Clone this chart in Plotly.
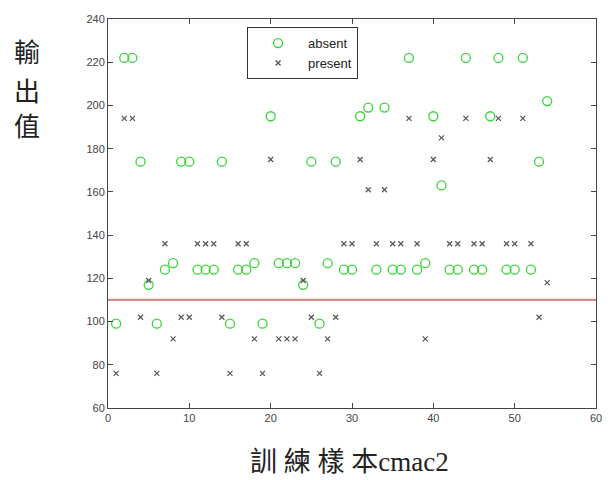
import plotly.graph_objects as go

sample_idx = list(range(1, 55))
absent = [99, 222, 222, 174, 117, 99, 124, 127, 174, 174,
          124, 124, 124, 174, 99, 124, 124, 127, 99, 195,
          127, 127, 127, 117, 174, 99, 127, 174, 124, 124,
          195, 199, 124, 199, 124, 124, 222, 124, 127, 195,
          163, 124, 124, 222, 124, 124, 195, 222, 124, 124,
          222, 124, 174, 202]
present = [76, 194, 194, 102, 119, 76, 136, 92, 102, 102,
           136, 136, 136, 102, 76, 136, 136, 92, 76, 175,
           92, 92, 92, 119, 102, 76, 92, 102, 136, 136,
           175, 161, 136, 161, 136, 136, 194, 136, 92, 175,
           185, 136, 136, 194, 136, 136, 175, 194, 136, 136,
           194, 136, 102, 118]
threshold = 110
x_range = [0, 60]
y_range = [60, 240]
x_ticks = [0, 10, 20, 30, 40, 50, 60]
y_ticks = [60, 80, 100, 120, 140, 160, 180, 200, 220, 240]
y_title_chars = ["輸", "出", "值"]
x_title = "訓 練 樣 本cmac2"

fig = go.Figure()
fig.add_trace(go.Scatter(
    x=x_range, y=[threshold, threshold], mode="lines",
    line=dict(color="#d48c8c", width=2.2), showlegend=False, hoverinfo="skip"))
fig.add_trace(go.Scatter(
    x=sample_idx, y=absent, mode="markers", name="absent",
    marker=dict(symbol="circle-open", size=9, color="#3ad43a", line=dict(width=1.3))))
fig.add_trace(go.Scatter(
    x=sample_idx, y=present, mode="markers", name="present",
    marker=dict(symbol="x-thin-open", size=5, color="#555555", line=dict(width=1.2))))

axis_common = dict(showgrid=False, zeroline=False, showline=True, linecolor="#444444",
                   linewidth=1, mirror="ticks", ticks="inside", ticklen=5,
                   tickcolor="#444444", tickfont=dict(family="Arial, Liberation Sans", size=11, color="#444444"))
fig.update_xaxes(range=x_range, tickvals=x_ticks, **axis_common)
fig.update_yaxes(range=y_range, tickvals=y_ticks, **axis_common)

annotations = []
for ch, yc in zip(y_title_chars, [0.918, 0.818, 0.728]):
    annotations.append(dict(text=ch, xref="paper", yref="paper",
                            x=-0.166, y=yc, xanchor="center", yanchor="middle", showarrow=False,
                            font=dict(family="Noto Sans CJK TC", size=26, color="#222222")))
annotations.append(dict(text=x_title, xref="paper", yref="paper",
                        x=0.495, y=-0.139, xanchor="center", yanchor="middle", showarrow=False,
                        font=dict(family="Liberation Serif, Noto Sans CJK TC", size=27, color="#222222")))

fig.update_layout(
    width=610, height=480,
    margin=dict(l=108, r=8, t=19, b=72),
    plot_bgcolor="white", paper_bgcolor="white",
    legend=dict(x=0.285, y=0.979, xanchor="left", yanchor="top",
                bordercolor="#333333", borderwidth=1, bgcolor="white",
                font=dict(family="Arial, Liberation Sans", size=13, color="#222222"),
                tracegroupgap=0, itemwidth=50),
    annotations=annotations,
)

fig.write_html("out.html", config={"displayModeBar": False},
               post_script="document.body.style.margin='0';document.body.style.padding='0';")
